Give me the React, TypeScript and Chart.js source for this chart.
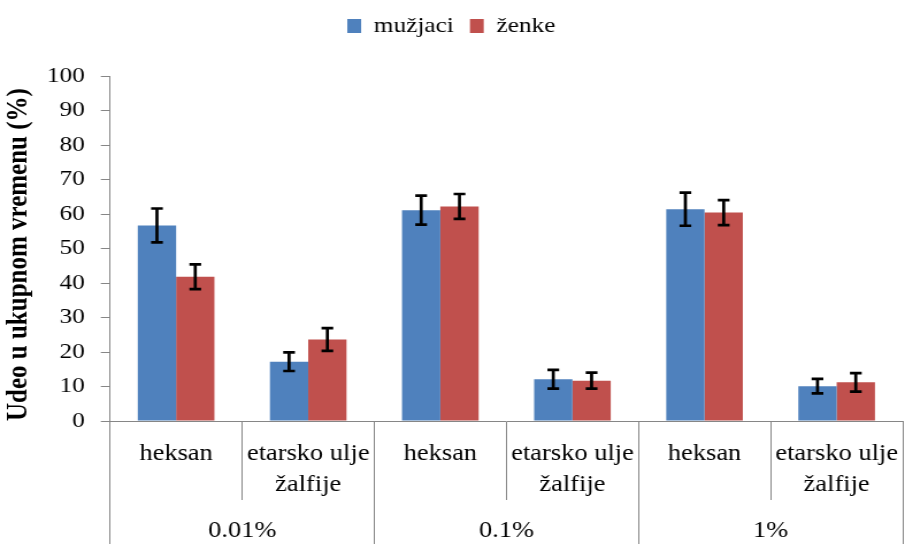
import { useEffect, useRef } from 'react';
import { Chart, registerables } from 'chart.js';

Chart.register(...registerables);

// ---- data ----
const categories: (string | string[])[] = [
  'heksan',
  ['etarsko ulje', 'žalfije'],
  'heksan',
  ['etarsko ulje', 'žalfije'],
  'heksan',
  ['etarsko ulje', 'žalfije'],
];
const groups = ['0.01%', '0.1%', '1%'];
const seriesNames = ['mužjaci', 'ženke'];
const muzjaci = [56.7, 17.2, 61.1, 12.1, 61.4, 10.1];
const muzjaciErr = [4.9, 2.7, 4.2, 2.7, 4.8, 2.1];
const zenke = [41.8, 23.6, 62.2, 11.7, 60.4, 11.2];
const zenkeErr = [3.6, 3.3, 3.6, 2.3, 3.6, 2.7];
const yMin = 0;
const yMax = 100;
const yStep = 10;
const yTitle = 'Udeo u ukupnom vremenu (%)';

const errors = [muzjaciErr, zenkeErr];

const AXIS = '#868686';
const FONT = "'Liberation Serif'";
const CANVAS_W = 787;
const CANVAS_H = 544;

const errorBarPlugin = {
  id: 'errorBars',
  afterDatasetsDraw(chart: any) {
    const ctx = chart.ctx;
    const yScale = chart.scales.y;
    chart.data.datasets.forEach((ds: any, i: number) => {
      const meta = chart.getDatasetMeta(i);
      const errs = errors[i];
      meta.data.forEach((bar: any, j: number) => {
        const v = ds.data[j];
        const e = errs[j];
        const x = bar.x;
        const top = yScale.getPixelForValue(v + e);
        const bot = yScale.getPixelForValue(v - e);
        const half = 5.1;
        ctx.save();
        ctx.strokeStyle = '#000';
        ctx.lineWidth = 2.7;
        ctx.beginPath();
        ctx.moveTo(x, top);
        ctx.lineTo(x, bot);
        ctx.moveTo(x - half, top);
        ctx.lineTo(x + half, top);
        ctx.moveTo(x - half, bot);
        ctx.lineTo(x + half, bot);
        ctx.stroke();
        ctx.restore();
      });
    });
  },
};

const legendSpacingPlugin = {
  id: 'legendSpacing',
  beforeInit(chart: any) {
    const legend = chart.legend;
    if (!legend) return;
    const origFit = legend.fit;
    legend.fit = function fit() {
      origFit.bind(legend)();
      legend.height = 75;
    };
  },
};

export default function App() {
  const ref = useRef<HTMLCanvasElement | null>(null);

  useEffect(() => {
    let chart: Chart | null = null;
    let cancelled = false;

    const build = () => {
      if (cancelled || !ref.current) return;
      Chart.defaults.font.family = FONT;
      Chart.defaults.color = '#000';
      chart = new Chart(ref.current, {
        type: 'bar',
        data: {
          labels: categories as any,
          datasets: [
            {
              label: seriesNames[0],
              data: muzjaci,
              backgroundColor: '#4F81BD',
              borderWidth: 0,
              categoryPercentage: 0.58,
              barPercentage: 1.0,
            },
            {
              label: seriesNames[1],
              data: zenke,
              backgroundColor: '#C0504D',
              borderWidth: 0,
              categoryPercentage: 0.58,
              barPercentage: 1.0,
            },
          ],
        },
        options: {
          responsive: false,
          animation: false,
          layout: { padding: { top: 1, left: 0, right: 2, bottom: 0 } },
          plugins: {
            legend: {
              display: true,
              position: 'top',
              labels: {
                boxWidth: 12,
                boxHeight: 14,
                padding: 14,
                color: '#000',
                font: { size: 22, family: FONT },
              },
            },
            tooltip: { enabled: false },
            title: { display: false },
          },
          scales: {
            x: {
              type: 'category',
              position: 'bottom',
              weight: 0,
              grid: {
                display: true,
                offset: true,
                drawOnChartArea: false,
                drawTicks: true,
                tickLength: 79,
                color: AXIS,
                lineWidth: 1,
              },
              border: { display: true, color: AXIS, width: 1 },
              ticks: {
                font: { size: 23, family: FONT, lineHeight: '31px' },
                color: '#000',
                padding: -61.6,
                maxRotation: 0,
                minRotation: 0,
                autoSkip: false,
              },
              afterFit: (s: any) => {
                s.height = 79;
              },
            } as any,
            x2: {
              type: 'category',
              position: 'bottom',
              weight: 1,
              labels: groups,
              offset: true,
              grid: {
                display: true,
                offset: true,
                drawOnChartArea: false,
                drawTicks: true,
                tickLength: 50,
                color: AXIS,
                lineWidth: 1,
              },
              border: { display: false },
              ticks: {
                font: { size: 23, family: FONT },
                color: '#000',
                padding: -32.8,
                maxRotation: 0,
                minRotation: 0,
                autoSkip: false,
              },
              afterFit: (s: any) => {
                s.height = 44;
              },
            } as any,
            y: {
              min: yMin,
              max: yMax,
              ticks: {
                stepSize: yStep,
                font: { size: 22, family: FONT },
                color: '#000',
                padding: 14,
              },
              grid: {
                display: true,
                drawOnChartArea: false,
                drawTicks: true,
                tickLength: 8,
                color: AXIS,
              },
              border: { display: true, color: AXIS, width: 1 },
              title: {
                display: true,
                text: yTitle,
                align: 'start',
                color: '#000',
                font: { size: 25, weight: 'bold', family: FONT },
                padding: { top: 2, bottom: 0 },
              },
              afterFit: (s: any) => {
                s.width = 95.7;
              },
            } as any,
          },
        },
        plugins: [legendSpacingPlugin, errorBarPlugin],
      });
    };

    const fonts: any = (document as any).fonts;
    if (fonts && fonts.load) {
      Promise.all([
        fonts.load("22px 'Liberation Serif'", 'heksanžalfije0123456789%'),
        fonts.load("bold 25px 'Liberation Serif'", 'Udeo u ukupnom vremenu (%)'),
      ])
        .catch(() => undefined)
        .then(build);
    } else {
      build();
    }

    return () => {
      cancelled = true;
      if (chart) chart.destroy();
    };
  }, []);

  return (
    <div style={{ position: 'fixed', left: 0, top: 0, width: 905, height: 544, background: '#fff' }}>
      <canvas
        ref={ref}
        width={CANVAS_W}
        height={CANVAS_H}
        style={{ width: '905px', height: '544px', display: 'block' }}
      />
    </div>
  );
}
